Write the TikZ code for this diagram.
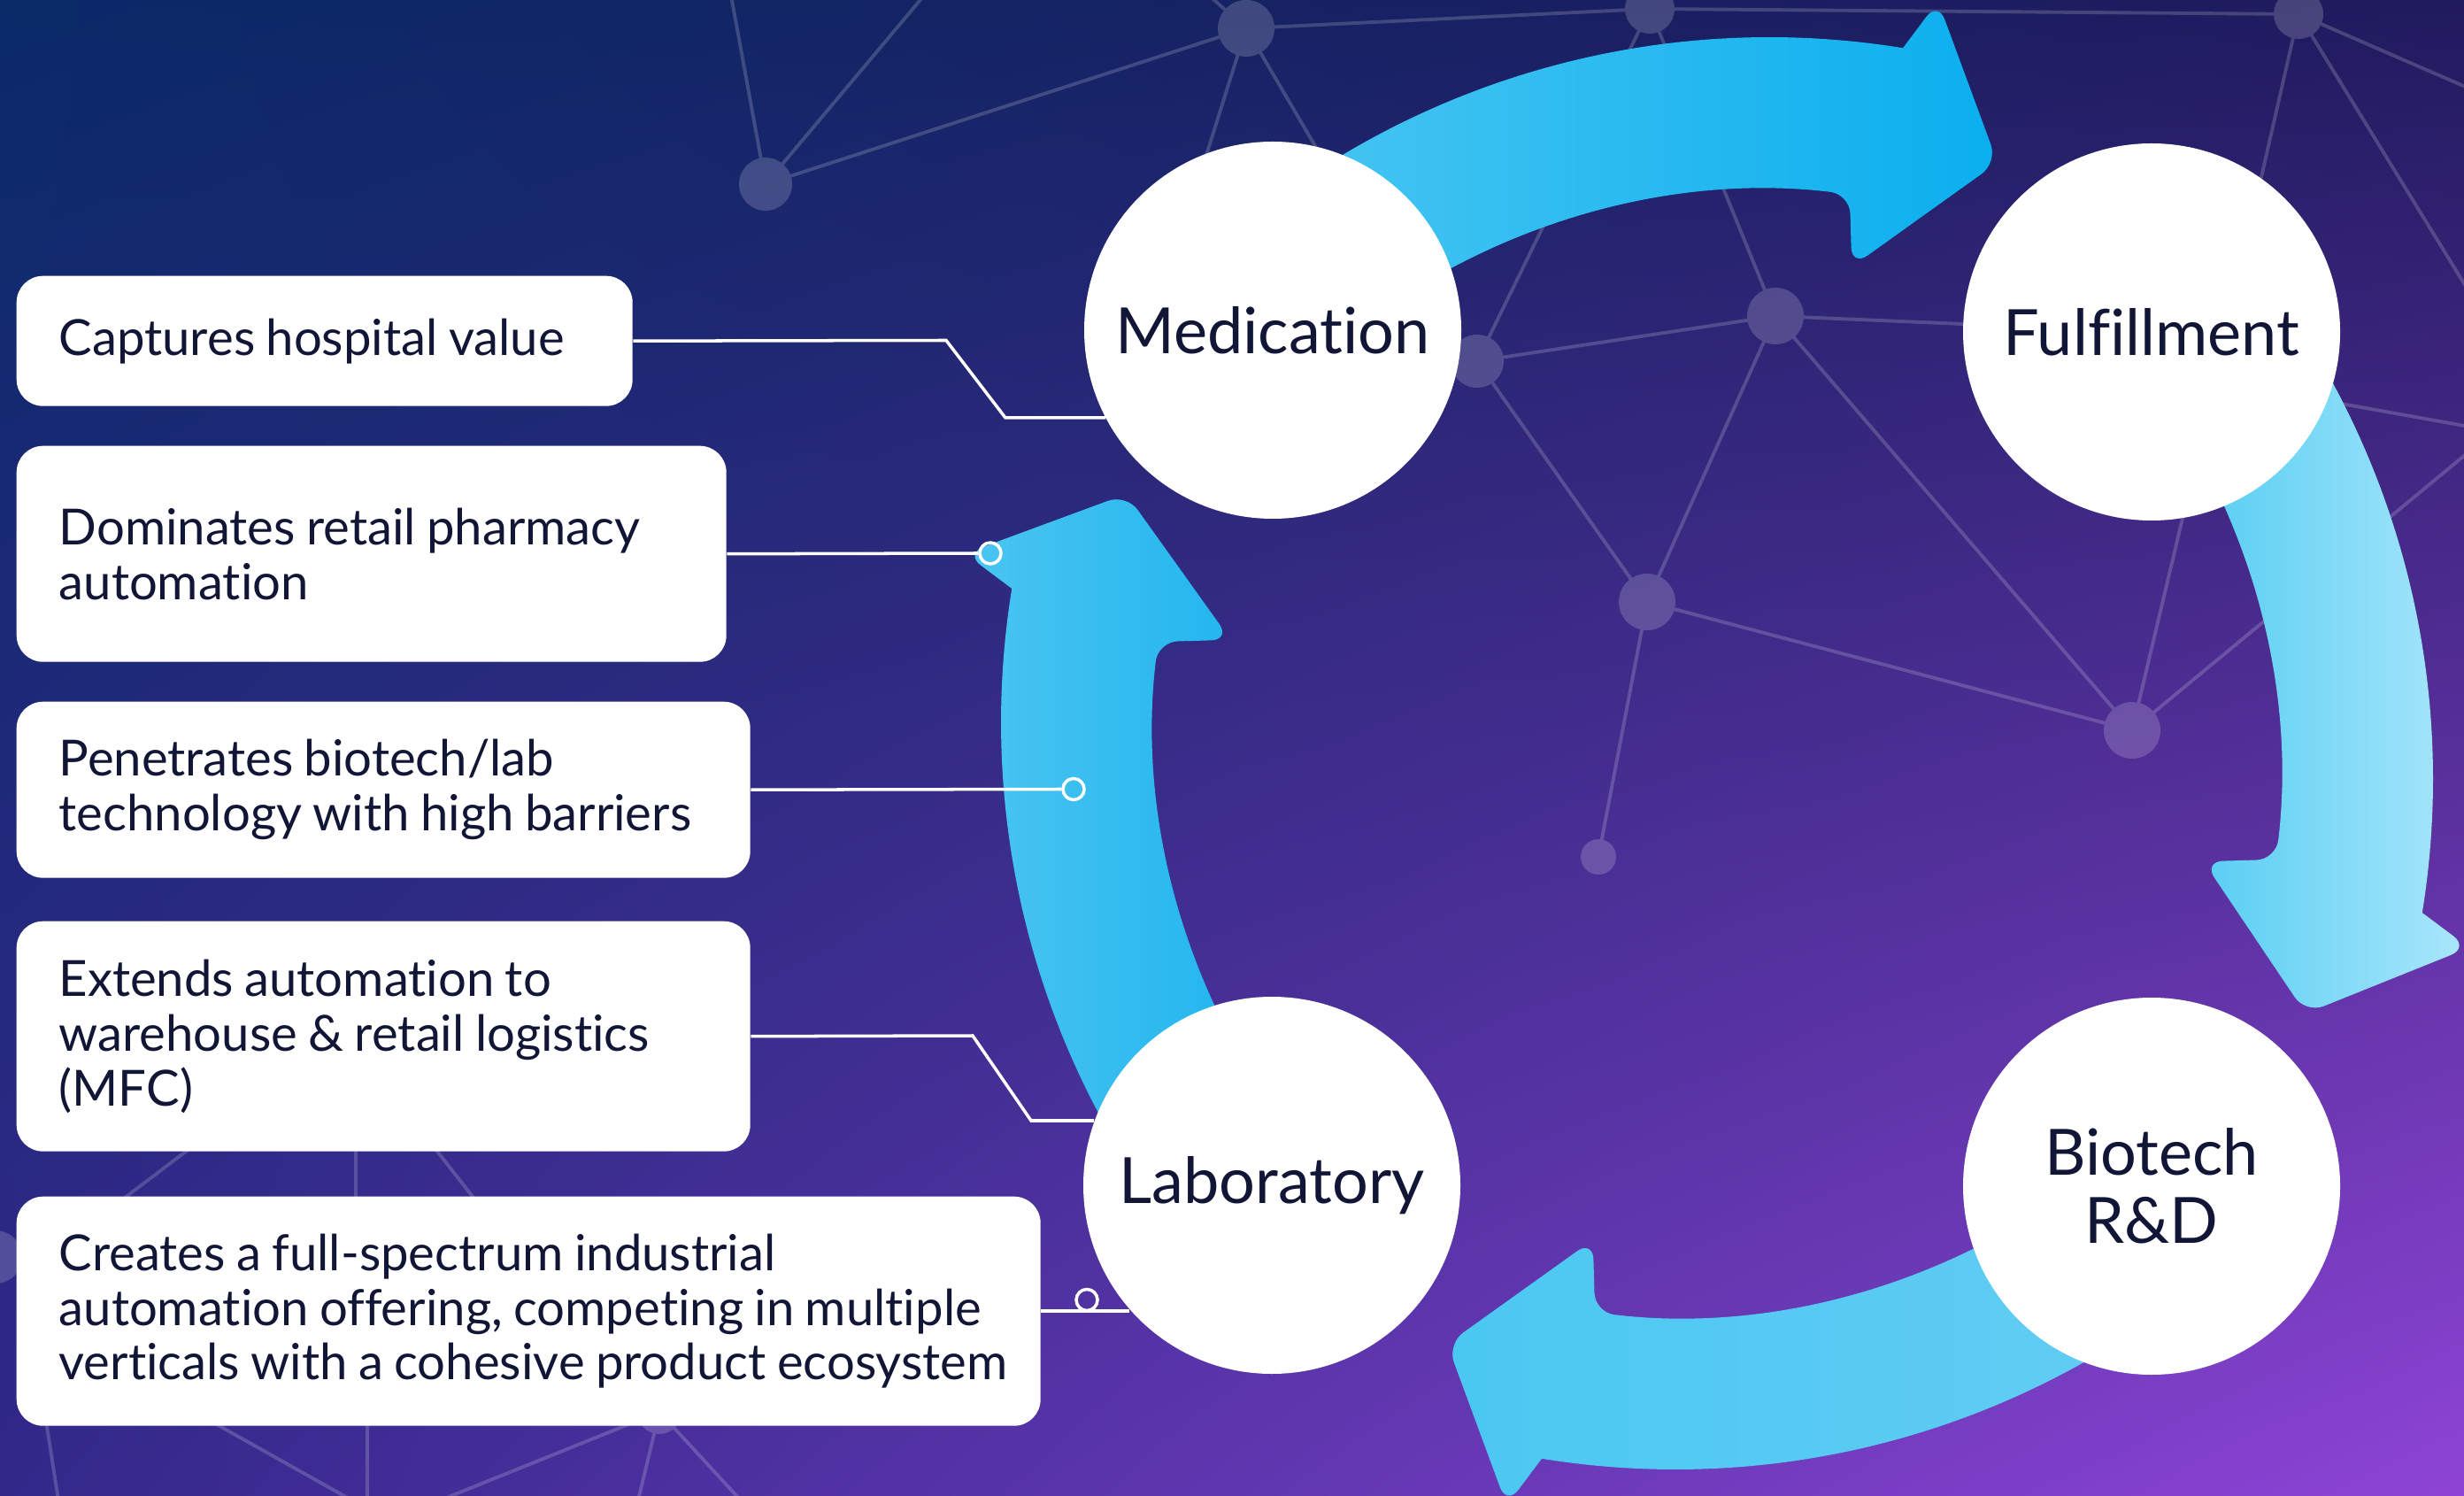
\documentclass[tikz,border=0pt]{standalone}
\usepackage{fontspec}
\setmainfont{Lato}[Ligatures=NoCommon]
\usetikzlibrary{calc,shadings}
\definecolor{ink}{HTML}{111536}
\definecolor{bgUL}{HTML}{0A2A68}
\definecolor{bgUR}{HTML}{201A5E}
\definecolor{bgLL}{HTML}{32288A}
\definecolor{bgLR}{HTML}{8E44D6}
\definecolor{aTopT}{HTML}{4CC7F2}
\definecolor{aTopH}{HTML}{0BAFEE}
\definecolor{aRgtT}{HTML}{3DC6F1}
\definecolor{aRgtH}{HTML}{ABE7FA}
\definecolor{aBotT}{HTML}{4AC8F2}
\definecolor{aBotM}{HTML}{95DDF8}
\definecolor{aBotH}{HTML}{66CDF4}
\definecolor{aLftT}{HTML}{4BC5F1}
\definecolor{aLftH}{HTML}{16B1EE}
\begin{document}
\begin{tikzpicture}[
  net/.style={draw=white, line width=1.1pt},
  stage/.style={circle, fill=white, minimum size=4.26cm, inner sep=0pt, text=ink, align=center,
    font=\fontsize{20.5}{22}\selectfont},
  note/.style={rectangle, rounded corners=0.3cm, fill=white, anchor=north west, inner xsep=0.48cm,
    inner ysep=0pt, align=flush left, text=ink, font=\fontsize{16}{17.6}\selectfont,
    execute at begin node={\spaceskip=0.22em\relax}},
  link/.style={draw=white, line width=1pt},
  ring/.style={circle, draw=white, line width=1pt, minimum size=0.24cm, inner sep=0pt}
]
\useasboundingbox (0,0) rectangle (27.84,-16.90);
\shade[upper left=bgUL, upper right=bgUR, lower left=bgLL, lower right=bgLR] (0,0) rectangle (27.84,-16.90);

% ---------- network ----------
\coordinate (nA) at (8.65,-2.08);
\coordinate (nB) at (14.08,-0.32);
\coordinate (nC) at (18.64,-0.10);
\coordinate (nD) at (25.97,-0.16);
\coordinate (nE) at (16.69,-4.08);
\coordinate (nF) at (20.06,-3.57);
\coordinate (nG) at (18.61,-6.80);
\coordinate (nH) at (24.09,-8.25);
\coordinate (nI) at (18.06,-9.68);
\coordinate (nJ) at (7.45,-15.95);
\coordinate (nK) at (-0.05,-14.20);
\coordinate (e1) at (8.26,0.05);
\coordinate (e2) at (10.44,0.05);
\coordinate (e3) at (13.66,0.05);
\coordinate (e4) at (13.30,-2.80);
\coordinate (e5) at (15.30,-2.40);
\coordinate (e6) at (24.31,-3.75);
\coordinate (e7) at (25.10,-4.00);
\coordinate (e8) at (25.15,-3.75);
\coordinate (e9) at (27.90,-3.30);
\coordinate (e10) at (27.90,-1.00);
\coordinate (e11) at (27.90,-5.10);
\coordinate (e12) at (25.00,-4.30);
\coordinate (e13) at (27.90,-4.82);
\begin{scope}[transparency group, opacity=0.18]
\foreach \p/\q in {nA/nB, nA/e1, nA/e2, nB/nC, nB/e3, nB/e4, nB/e5, nC/nD, nC/nE, nC/nF,
  nE/nF, nE/nG, nF/nG, nF/nH, nF/e6, nG/nH, nG/nI, nH/e7, nH/e11, nD/e8, nD/e9, nD/e10, e12/e13}
  \draw[net] (\p) -- (\q);
\draw[net] (2.60,-12.63) -- (1.00,-13.84);
\draw[net] (4.02,-12.50) -- (4.02,-14.00);
\draw[net] (4.70,-12.70) -- (5.60,-13.85);
\draw[net] (nJ) -- (4.97,-16.95);
\draw[net] (nJ) -- (7.21,-16.95);
\draw[net] (nJ) -- (8.37,-16.95);
\draw[net] (0.45,-15.60) -- (0.66,-16.95);
\draw[net] (2.00,-15.84) -- (3.98,-16.95);
\draw[net] (4.15,-15.50) -- (4.15,-16.95);
\foreach \p/\r in {nA/0.30, nB/0.32, nC/0.28, nD/0.28, nE/0.30, nF/0.32, nG/0.32, nH/0.32, nI/0.20, nJ/0.25, nK/0.30}
  \fill[white] (\p) circle (\r);
\end{scope}

% ---------- cycle arrows ----------
% top: Medication -> Fulfillment
\begin{scope}[shift={(0.24,0.12)}, rotate around={0:(19.34,-8.57)}, shift={(19.75,-9.94)}]
\shade[left color=aTopT, right color=aTopH]
  (131:9.40) arc[start angle=131, end angle=80.75, radius=9.40]
  [rounded corners=0.22cm] -- (79:9.99) -- (72.1:8.39) -- (82.2:6.87) -- (83.2:7.68)
  [sharp corners] arc[start angle=83.2, end angle=131, radius=7.68] -- cycle;
\end{scope}
% right: Fulfillment -> Biotech R&D
\begin{scope}[shift={(0.12,0.18)}, rotate around={-90:(19.34,-8.57)}, shift={(19.75,-9.94)}]
\shade[left color=aRgtT, right color=aRgtH]
  (131:9.40) arc[start angle=131, end angle=80.75, radius=9.40]
  [rounded corners=0.22cm] -- (79:9.99) -- (71.6:8.39) -- (82.2:6.87) -- (83.2:7.68)
  [sharp corners] arc[start angle=83.2, end angle=131, radius=7.68] -- cycle;
\end{scope}
% bottom: Biotech R&D -> Laboratory
\begin{scope}[rotate around={-180:(19.34,-8.57)}, shift={(19.75,-9.94)}]
\shade[left color=aBotT, middle color=aBotM, right color=aBotH]
  (131:9.40) arc[start angle=131, end angle=80.75, radius=9.40]
  [rounded corners=0.22cm] -- (79:9.99) -- (72.1:8.39) -- (82.2:6.87) -- (83.2:7.68)
  [sharp corners] arc[start angle=83.2, end angle=131, radius=7.68] -- cycle;
\end{scope}
% left: Laboratory -> Medication
\begin{scope}[rotate around={90:(19.34,-8.57)}, shift={(19.75,-9.94)}]
\shade[left color=aLftT, right color=aLftH]
  (131:9.40) arc[start angle=131, end angle=80.75, radius=9.40]
  [rounded corners=0.22cm] -- (79:9.99) -- (72.1:8.39) -- (82.2:6.87) -- (83.2:7.68)
  [sharp corners] arc[start angle=83.2, end angle=131, radius=7.68] -- cycle;
\end{scope}

% ---------- stages ----------
\node[stage] (med) at (14.38,-3.73) {Medication};
\node[stage] (ful) at (24.31,-3.75) {Fulfillment};
\node[stage] (bio) at (24.31,-13.40) {Biotech\\R\&D};
\node[stage] (lab) at (14.37,-13.39) {Laboratory};

% ---------- notes ----------
\node[note, minimum height=1.47cm, text width=6.00cm] (b1) at (0.18,-3.11)
  {\mbox{Captures hospital value}};
\node[note, minimum height=2.44cm, text width=7.06cm] (b2) at (0.18,-5.03)
  {\mbox{Dominates retail pharmacy}\\\mbox{automation}};
\node[note, minimum height=1.99cm, text width=7.33cm] (b3) at (0.18,-7.92)
  {\mbox{Penetrates biotech/lab}\\\mbox{technology with high barriers}};
\node[note, minimum height=2.60cm, text width=7.33cm] (b4) at (0.18,-10.40)
  {\mbox{Extends automation to}\\\mbox{warehouse \& retail logistics}\\\mbox{(MFC)}};
\node[note, minimum height=2.59cm, text width=10.61cm] (b5) at (0.18,-13.51)
  {\mbox{Creates a full-spectrum industrial}\\\mbox{automation offering, competing in multiple}\\\mbox{verticals with a cohesive product ecosystem}};

% ---------- connectors ----------
\coordinate (k1a) at (10.69,-3.845);
\coordinate (k1b) at (11.36,-4.72);
\draw[link] (b1.east) -- (k1a) -- (k1b) -- (k1b -| med.208);
\node[ring] (r2) at (11.19,-6.25) {};
\draw[link] (b2.east) -- (r2.west);
\node[ring] (r3) at (12.13,-8.915) {};
\draw[link] (b3.east) -- (r3.west);
\coordinate (k4a) at (10.99,-11.70);
\coordinate (k4b) at (11.65,-12.66);
\draw[link] (b4.east) -- (k4a) -- (k4b) -- (k4b -| lab.160);
\node[ring] (r5) at (12.28,-14.685) {};
\draw[link] (b5.east) -- (b5.east -| lab.221);
\end{tikzpicture}
\end{document}
